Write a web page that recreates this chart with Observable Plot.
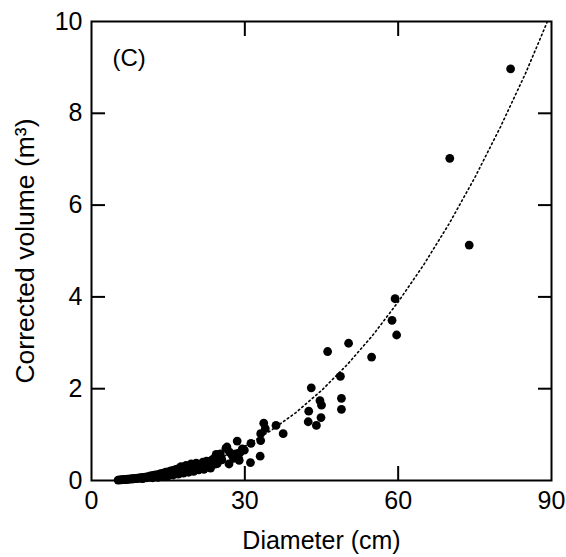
<!DOCTYPE html>
<html>
<head>
<meta charset="utf-8">
<script src="https://cdn.jsdelivr.net/npm/d3@7"></script>
<script src="https://cdn.jsdelivr.net/npm/@observablehq/plot@0.6"></script>
<style>
  html, body { margin: 0; padding: 0; background: #fff; }
  #chart { width: 566px; height: 557px; }
  svg { font-family: "Liberation Sans", Arial, sans-serif; }
</style>
</head>
<body>
<div id="chart"></div>
<script>
// Observed trees: diameter (cm) and corrected volume (m³)
const diameter = [
  5.2,5.5,5.8,6.0,6.3,6.5,6.8,7.0,7.2,7.5,7.8,8.0,8.2,8.5,8.8,9.0,9.3,9.5,9.8,10.0,
  10.3,10.5,10.8,11.0,11.3,11.5,11.8,12.0,12.3,12.5,12.8,13.0,13.3,13.5,13.8,14.0,14.3,14.5,14.8,15.0,
  15.3,15.5,15.8,16.0,16.3,16.5,16.8,17.0,17.3,17.5,17.8,18.0,18.3,18.5,18.8,19.0,19.3,19.5,19.8,20.0,
  20.3,20.5,20.8,21.0,21.5,21.8,22.0,22.3,22.5,23.0,23.3,23.5,24.0,24.3,24.6,25.0,25.2,25.5,
  10.0,12.0,13.0,14.0,15.0,16.0,17.0,18.0,19.0,20.0,21.0,22.0,23.5,24.4,24.6,25.4,22.0,
  26.3,26.5,27.0,26.9,27.5,27.8,28.2,28.2,28.5,28.9,28.8,29.5,29.0,29.9,31.2,31.1,33.0,33.1,33.1,34.0,33.7,36.1,37.5,
  42.4,44.0,42.5,44.9,45.0,44.7,43.0,48.9,48.9,48.7,46.2,50.3,54.8,58.8,59.7,59.4,70.1,73.9,82.0
];
const volume = [
  0.010,0.012,0.015,0.020,0.018,0.025,0.022,0.030,0.026,0.035,0.030,0.040,0.035,0.045,0.040,0.050,0.045,0.060,0.050,0.065,
  0.055,0.075,0.060,0.085,0.070,0.100,0.075,0.110,0.085,0.120,0.090,0.130,0.100,0.150,0.110,0.160,0.120,0.180,0.130,0.190,
  0.140,0.210,0.150,0.220,0.160,0.240,0.180,0.260,0.190,0.300,0.200,0.270,0.220,0.330,0.240,0.300,0.260,0.360,0.250,0.330,
  0.280,0.380,0.300,0.350,0.320,0.400,0.300,0.360,0.420,0.380,0.270,0.440,0.480,0.360,0.550,0.500,0.580,0.450,
  0.040,0.060,0.070,0.090,0.100,0.120,0.140,0.160,0.180,0.200,0.230,0.250,0.440,0.570,0.370,0.470,0.250,
  0.700,0.730,0.620,0.360,0.550,0.480,0.580,0.510,0.860,0.440,0.470,0.690,0.600,0.660,0.810,0.390,0.530,0.870,1.020,1.130,1.250,1.200,1.020,
  1.280,1.200,1.510,1.370,1.640,1.740,2.020,1.550,1.790,2.270,2.810,2.990,2.690,3.490,3.170,3.960,7.020,5.130,8.970
];
// Fitted power curve
const fitDiameter = [5, 6, 7, 8, 9, 10, 12, 14, 16, 18, 20, 22, 24, 26, 28, 30, 35, 40, 45, 50, 55, 60, 65, 70, 75, 80, 85, 89.2];
const fitVolume = [0.011, 0.016, 0.023, 0.032, 0.043, 0.055, 0.085, 0.122, 0.168, 0.222, 0.285, 0.358, 0.44, 0.532, 0.634, 0.747, 1.08, 1.48, 1.96, 2.52, 3.16, 3.89, 4.70, 5.60, 6.60, 7.70, 8.89, 10.0];

const xTicks = [0, 30, 60, 90];
const yTicks = [0, 2, 4, 6, 8, 10];
const xInner = [30, 60];
const yInner = [2, 4, 6, 8];

const points = diameter.map((d, i) => ({d, v: volume[i]}));
const fit = fitDiameter.map((d, i) => ({d, v: fitVolume[i]}));

const font = 25;
const chart = Plot.plot({
  width: 566,
  height: 557,
  marginLeft: 91,
  marginRight: 15,
  marginTop: 21,
  marginBottom: 77,
  style: {fontFamily: '"Liberation Sans", Arial, sans-serif', background: "#fff", color: "#000"},
  x: {domain: [0, 90]},
  y: {domain: [0, 10]},
  marks: [
    Plot.line(fit, {x: "d", y: "v", stroke: "#000", strokeWidth: 1.6, strokeDasharray: "1.6,3", clip: true}),
    Plot.dot(points, {x: "d", y: "v", r: 4.4, fill: "#000", stroke: "none"}),
    Plot.frame({stroke: "#000", strokeWidth: 2}),
    Plot.axisX({anchor: "bottom", ticks: xTicks, tickSize: 0, tickPadding: 11, fontSize: font, label: null}),
    Plot.axisX({anchor: "bottom", ticks: xInner, tickSize: -14, tickFormat: () => "", strokeWidth: 2, label: null}),
    Plot.axisX({anchor: "top", ticks: xInner, tickSize: -14, tickFormat: () => "", strokeWidth: 2, label: null}),
    Plot.axisY({anchor: "left", ticks: yTicks, tickSize: 0, tickPadding: 9, fontSize: font, label: null}),
    Plot.axisY({anchor: "left", ticks: yInner, tickSize: -14, tickFormat: () => "", strokeWidth: 2, label: null}),
    Plot.axisY({anchor: "right", ticks: yInner, tickSize: -14, tickFormat: () => "", strokeWidth: 2, label: null}),
    Plot.text(["Diameter (cm)"], {frameAnchor: "bottom", dy: 60, lineAnchor: "middle", textAnchor: "middle", fontSize: 25, fill: "#000"}),
    Plot.text(["Corrected volume (m³)"], {frameAnchor: "left", dx: -66, rotate: -90, lineAnchor: "middle", textAnchor: "middle", fontSize: 26.5, fill: "#000"}),
    Plot.text(["(C)"], {frameAnchor: "top-left", dx: 21, dy: 37, lineAnchor: "middle", textAnchor: "start", fontSize: 24, fill: "#000"})
  ]
});
document.getElementById("chart").appendChild(chart);
</script>
</body>
</html>
